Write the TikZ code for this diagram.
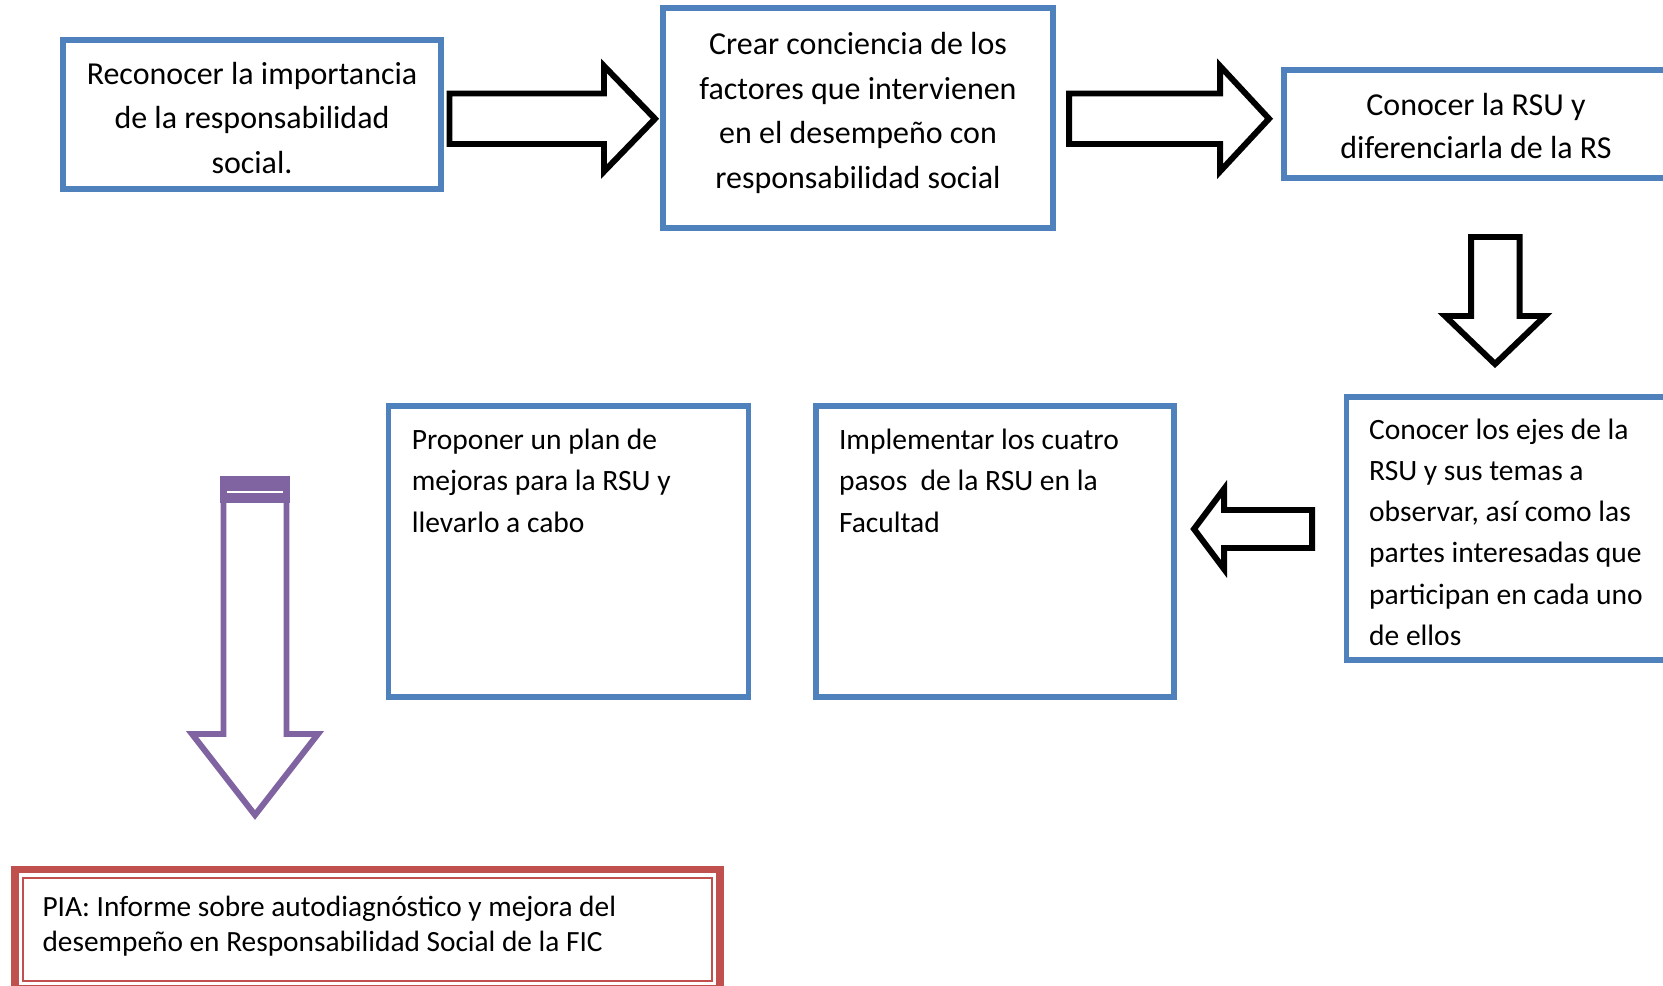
\documentclass[tikz,border=0pt]{standalone}
\usepackage{fontspec}
\setmainfont{Carlito}
\usetikzlibrary{positioning}
\definecolor{BoxBlue}{RGB}{79,129,189}
\definecolor{BoxRed}{RGB}{192,80,77}
\definecolor{ArrowPurple}{RGB}{128,100,162}
\newcommand{\topalign}[4][\raggedright]{\parbox[c][#2][t]{#3}{#1 #4}}

\begin{document}
\begin{tikzpicture}[x=0.02cm, y=-0.02cm,
       every node/.style={font=\fontsize{16.8}{23.5}\selectfont},
       stepbox/.style 2 args = {rectangle, minimum width=#1, minimum height=#2,
                                draw=BoxBlue, line width=3pt, inner xsep=0pt,
                                font=\fontsize{18.2}{25.3}\selectfont},
       notebox/.style = {rectangle, draw=BoxBlue, line width=3pt,
                         inner xsep=0.46cm, inner ysep=0.46cm},
       reportbox/.style = {rectangle, draw=BoxRed, line width=4.5pt,
                           inner xsep=0.56cm, inner ysep=0.54cm,
                           font=\fontsize{16.7}{19.9}\selectfont},
       blockarrow/.style = {draw=black, line width=3.4pt, fill=white, miter limit=10},
       goalarrow/.style = {draw=ArrowPurple, line width=3.4pt, fill=white, miter limit=10}]
	\path[use as bounding box, clip] (0,0) rectangle (1663,986);

	%% Top row
	\node [stepbox={7.56cm}{2.98cm}, inner ysep=0.44cm] (recon) at (252,114.5)
	      {\topalign[\centering]{2.10cm}{7cm}{Reconocer la importancia\\ de la responsabilidad\\ social.}};
	\node [stepbox={7.8cm}{4.4cm}, inner ysep=0.49cm] (crear) at (858,118)
	      {\topalign[\centering]{3.42cm}{7cm}{Crear conciencia de los\\ factores que intervienen\\ en el desempeño con\\ responsabilidad social}};
	\node [stepbox={7.68cm}{2.16cm}, inner ysep=0.46cm, font=\fontsize{18.2}{24.8}\selectfont] (conocer) at (1476,124)
	      {\topalign[\centering]{1.24cm}{7cm}{Conocer la RSU y\\ diferenciarla de la RS}};

	%% Second row
	\node [notebox, anchor=west, inner ysep=0.43cm] (ejes) at (1343.5,528.5)
	      {\topalign{4.40cm}{5.68cm}{Conocer los ejes de la\\ RSU y sus temas a\\ observar, así como las\\ partes interesadas que\\ participan en cada uno\\ de ellos}};
	\node [notebox] (implem) at (995,551.5)
	      {\topalign{4.90cm}{6.24cm}{Implementar los cuatro\\ pasos~ de la RSU en la\\ Facultad}};
	\node [notebox, left=1.24cm of implem] (propon)
	      {\topalign{4.90cm}{6.28cm}{Proponer un plan de\\ mejoras para la RSU y\\ llevarlo a cabo}};

	%% Report
	\node [reportbox] (pia) at (367.25,929.25)
	      {\topalign{1.31cm}{12.99cm}{PIA: Informe sobre autodiagnóstico y mejora del\\ desempeño en Responsabilidad Social de la FIC}};
	\draw [BoxRed, line width=1.1pt] ([shift={(12,12)}]pia.north west) rectangle ([shift={(-12,-12)}]pia.south east);

	%% Arrows
	\draw [blockarrow] (449.5,93.5) -- (604,93.5) -- (604,66) -- (655,118.75)
	      -- (604,171.5) -- (604,144) -- (449.5,144) -- cycle;
	\draw [blockarrow] (1069,93.5) -- (1220,93.5) -- (1220,66) -- (1269,118.75)
	      -- (1220,171.5) -- (1220,144) -- (1069,144) -- cycle;
	\draw [blockarrow] (1471,237) -- (1519.5,237) -- (1519.5,316) -- (1545,316)
	      -- (1495,364) -- (1445,316) -- (1471,316) -- cycle;
	\draw [blockarrow] (1312,510) -- (1224,510) -- (1224,489) -- (1194,529)
	      -- (1224,569) -- (1224,548) -- (1312,548) -- cycle;
	\draw [goalarrow] (223.5,479.5) -- (286.5,479.5) -- (286.5,734) -- (318,734)
	      -- (255,815) -- (192,734) -- (223.5,734) -- cycle;
	\fill [ArrowPurple] (220,476) rectangle (290,503);
	\draw [white, line width=1pt] (227,492) -- (283,492);
\end{tikzpicture}
\end{document}
